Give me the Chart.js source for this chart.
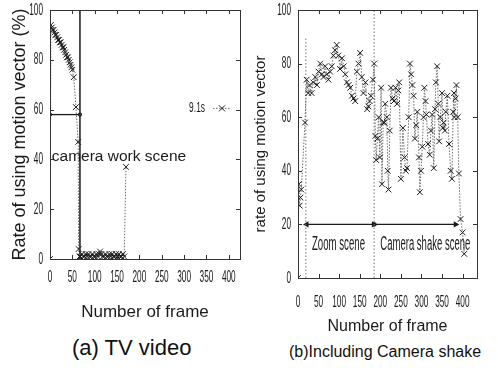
<!DOCTYPE html>
<html>
<head>
<meta charset="utf-8">
<script src="https://cdn.jsdelivr.net/npm/chart.js@4/dist/chart.umd.min.js"></script>
<style>
  body { margin: 0; background: #fff; width: 498px; height: 368px; overflow: hidden; position: relative; font-family: "Liberation Sans", Arial, sans-serif; }
  .panel { position: absolute; top: 0; }
  #left { left: 0; width: 250px; height: 327px; }
  #right { left: 250px; width: 248px; height: 340px; }
  .cap { position: absolute; white-space: nowrap; color: #111; }
</style>
</head>
<body>
<div class="panel" id="left"><canvas id="tvChart" width="250" height="327"></canvas></div>
<div class="panel" id="right"><canvas id="shakeChart" width="248" height="340"></canvas></div>
<div class="cap" style="left:72px;top:335px;font-size:22px">(a) TV video</div>
<div class="cap" style="left:289px;top:343px;font-size:16px">(b)Including Camera shake</div>

<script>
// =====================
// Data
// =====================

const frameTicks = [0, 50, 100, 150, 200, 250, 300, 350, 400]
const rateTicks = [0, 20, 40, 60, 80, 100]

// (a) TV video
const tvFrames = [0, 2, 4, 6, 8, 10, 12, 14, 16, 18, 20, 22, 24, 26, 28, 30, 32, 34, 36, 38, 40, 42, 44, 46, 48, 50, 53, 58, 63, 64, 66,
  68, 71, 74, 77, 80, 83, 86, 89, 92, 95, 98, 101, 104, 107, 110, 112, 115, 118, 121, 124, 127, 130, 133, 136, 139, 142, 145, 148, 151, 154, 157, 160, 163, 166, 170]
const tvRate = [0, 94, 93, 92, 92, 91, 90, 90, 89, 88, 88, 87, 87, 86, 85, 85, 84, 83, 82, 81, 81, 80, 79, 78, 77, 76, 73, 61, 47, 4, 1,
  1, 2, 1, 1, 2, 1, 2, 1, 1, 2, 1, 1, 2, 1, 2, 3, 2, 1, 1, 2, 1, 1, 2, 1, 2, 1, 1, 2, 1, 2, 1, 1, 2, 1, 37]

// scene marks in (a)
const tvSceneEnd = 67
const tvSceneLevel = 58

// (b) Including Camera shake
const shakeFrames = [0, 2, 4, 6, 8, 17, 21, 25, 28, 33, 37, 42, 46, 50, 54, 58, 62, 66, 70, 74, 78, 82, 86, 90, 94, 98,
  102, 107, 111, 115, 119, 123, 127, 131, 135, 139, 143, 147, 151, 155, 159, 164, 168, 171, 174, 177, 182, 185,
  188, 190, 193, 196, 199, 202, 204, 207, 210, 212, 216, 218, 220, 223, 226, 230, 233, 237, 241, 244, 246,
  250, 255, 259, 262, 265, 269, 272, 275, 278, 281, 284, 287, 290, 294, 296, 299, 302, 305, 307, 310, 312,
  316, 320, 323, 326, 330, 333, 335, 338, 341, 343, 346, 350, 352, 354, 357, 359, 363, 367, 371, 374, 377,
  379, 380, 383, 385, 388, 391, 395, 400, 404]
const shakeRate = [0, 35, 27, 30, 33, 58, 74, 69, 72, 69, 73, 75, 72, 77, 80, 76, 75, 79, 76, 74, 77, 79, 83, 85, 87, 83,
  78, 82, 79, 76, 73, 72, 71, 68, 67, 66, 77, 80, 84, 75, 69, 73, 63, 64, 66, 68, 74, 80,
  53, 44, 52, 60, 45, 71, 35, 58, 58, 65, 60, 40, 33, 55, 71, 67, 66, 71, 65, 70, 73,
  37, 56, 45, 40, 41, 60, 80, 76, 72, 68, 52, 57, 62, 45, 32, 40, 49, 60, 71, 66, 61,
  50, 46, 55, 61, 41, 63, 73, 79, 65, 51, 60, 69, 56, 58, 55, 62, 68, 50, 40, 37, 62,
  69, 60, 67, 72, 60, 39, 22, 17, 9]

// scene marks in (b)
const shakeZoomStart = 19
const shakeSceneSplit = 185
const shakeSceneEnd = 383
const shakeArrowLevel = 20


// =====================
// Helpers
// =====================
const sans = '"Liberation Sans", Arial, sans-serif'
const ink = "#1a1a1a"

function points(xs, ys) {
  return xs.map((x, i) => ({ x: x, y: ys[i] }))
}

function seriesStyle(data) {
  return {
    data: data,
    borderColor: "#6a6a6a",
    borderWidth: 1,
    borderDash: [1.5, 1.5],
    pointStyle: "crossRot",
    pointRadius: 4,
    pointBorderColor: ink,
    pointBorderWidth: 1,
    tension: 0
  }
}

// squeezed text, like the narrow face of the scan
function squeezed(ctx, text, px, py, size, sx, align, baseline) {
  ctx.save()
  ctx.translate(px, py)
  ctx.scale(sx, 1)
  ctx.font = size + "px " + sans
  ctx.textAlign = align
  ctx.textBaseline = baseline
  ctx.fillText(text, 0, 0)
  ctx.restore()
}

// box, inward ticks, tick labels, in-plot text and key
const paperMarks = {
  id: "paperMarks",
  afterDatasetsDraw(chart, args, opts) {
    const { ctx, chartArea: a, scales: { x, y } } = chart
    ctx.save()
    ctx.strokeStyle = "#333"
    ctx.lineWidth = 1
    ctx.strokeRect(a.left + 0.5, a.top + 0.5, a.right - a.left, a.bottom - a.top)

    ctx.beginPath()
    x.ticks.forEach(t => {
      const px = Math.round(x.getPixelForValue(t.value)) + 0.5
      ctx.moveTo(px, a.bottom); ctx.lineTo(px, a.bottom - 4)
      ctx.moveTo(px, a.top); ctx.lineTo(px, a.top + 4)
    })
    y.ticks.forEach(t => {
      const py = Math.round(y.getPixelForValue(t.value)) + 0.5
      ctx.moveTo(a.left, py); ctx.lineTo(a.left + 4, py)
      ctx.moveTo(a.right, py); ctx.lineTo(a.right - 4, py)
    })
    ctx.stroke()

    ctx.fillStyle = ink
    x.ticks.forEach(t => {
      squeezed(ctx, String(t.value), x.getPixelForValue(t.value), a.bottom + opts.xLabelGap, 16.5, 0.5, "center", "top")
    })
    y.ticks.forEach(t => {
      squeezed(ctx, String(t.value), a.left - opts.yLabelGap, y.getPixelForValue(t.value), 16.5, 0.5, "right", "middle")
    })

    ;(opts.texts || []).forEach(t => {
      ctx.save()
      ctx.font = t.size + "px " + sans
      const sx = t.width ? t.width / ctx.measureText(t.text).width : 1
      ctx.restore()
      squeezed(ctx, t.text, x.getPixelForValue(t.x), y.getPixelForValue(t.y), t.size, sx, "left", "alphabetic")
    })

    if (opts.key) {
      const k = opts.key
      const py = y.getPixelForValue(k.y)
      squeezed(ctx, k.text, a.right - 35, py, 14, 0.6, "right", "middle")
      ctx.strokeStyle = "#6a6a6a"
      ctx.setLineDash([1.5, 1.5])
      ctx.beginPath(); ctx.moveTo(a.right - 27, py); ctx.lineTo(a.right - 10, py); ctx.stroke()
      ctx.setLineDash([])
      ctx.strokeStyle = ink
      const cx = a.right - 18
      ctx.beginPath()
      ctx.moveTo(cx - 3, py - 3); ctx.lineTo(cx + 3, py + 3)
      ctx.moveTo(cx + 3, py - 3); ctx.lineTo(cx - 3, py + 3)
      ctx.stroke()
    }
    ctx.restore()
  }
}

function axes(xMax, xHeight, yWidth, yTitle, yTitleSize, yTitlePad, xTitleSize) {
  return {
    x: {
      type: "linear", min: 0, max: xMax,
      afterFit: s => { s.height = xHeight },
      afterBuildTicks: s => { s.ticks = frameTicks.map(v => ({ value: v })) },
      grid: { display: false, drawTicks: false },
      border: { display: false },
      ticks: { display: false, autoSkip: false },
      title: { display: true, text: "Number of frame", color: ink, padding: { top: 4, bottom: 4 },
        font: { family: sans, size: xTitleSize } }
    },
    y: {
      min: 0, max: 100,
      afterFit: s => { s.width = yWidth },
      afterBuildTicks: s => { s.ticks = rateTicks.map(v => ({ value: v })) },
      grid: { display: false, drawTicks: false },
      border: { display: false },
      ticks: { display: false },
      title: { display: true, text: yTitle, color: ink, padding: { top: yTitlePad, bottom: 0 },
        font: { family: sans, size: yTitleSize } }
    }
  }
}


// =====================
// (a) TV video
// =====================
new Chart(document.getElementById("tvChart"), {
  type: "line",
  data: {
    datasets: [
      seriesStyle(points(tvFrames, tvRate)),
      {
        data: [{ x: tvSceneEnd, y: 0 }, { x: tvSceneEnd, y: 100 }],
        borderColor: ink, borderWidth: 1.5, pointRadius: 0
      },
      {
        data: [{ x: 0, y: tvSceneLevel }, { x: tvSceneEnd, y: tvSceneLevel }],
        borderColor: ink, borderWidth: 1.3, pointRadius: 1.5,
        pointBackgroundColor: "#fff", pointBorderColor: ink
      }
    ]
  },
  options: {
    responsive: false,
    animation: false,
    layout: { padding: { top: 10, right: 10, left: 0, bottom: 0 } },
    plugins: {
      legend: { display: false },
      tooltip: { enabled: false },
      paperMarks: {
        xLabelGap: 10,
        yLabelGap: 7,
        texts: [{ text: "camera work scene", x: 4, y: 39.5, size: 15.5 }],
        key: { text: "9.1s", y: 60.5 }
      }
    },
    scales: axes(425, 68, 50, "Rate of using motion vector (%)", 18, 9, 17)
  },
  plugins: [paperMarks]
})


// =====================
// (b) Including Camera shake
// =====================
new Chart(document.getElementById("shakeChart"), {
  type: "line",
  data: {
    datasets: [
      seriesStyle(points(shakeFrames, shakeRate)),
      {
        data: [{ x: shakeSceneSplit, y: 0 }, { x: shakeSceneSplit, y: 100 }],
        borderColor: "#777", borderWidth: 1, borderDash: [1.5, 2], pointRadius: 0
      },
      {
        data: [{ x: shakeZoomStart, y: 0 }, { x: shakeZoomStart, y: 90 }],
        borderColor: "#777", borderWidth: 1, borderDash: [1.5, 2], pointRadius: 0
      },
      {
        data: [{ x: shakeZoomStart + 2, y: shakeArrowLevel }, { x: shakeSceneSplit - 1, y: shakeArrowLevel }],
        borderColor: ink, borderWidth: 1.2, pointStyle: "triangle", pointRotation: [-90, 90],
        pointRadius: 2.5, pointBackgroundColor: ink, pointBorderColor: ink
      },
      {
        data: [{ x: shakeSceneSplit + 1, y: shakeArrowLevel }, { x: shakeSceneEnd, y: shakeArrowLevel }],
        borderColor: ink, borderWidth: 1.2, pointStyle: ["circle", "triangle"], pointRotation: [0, 90],
        pointRadius: [1.5, 2.5], pointBackgroundColor: ink, pointBorderColor: ink
      }
    ]
  },
  options: {
    responsive: false,
    animation: false,
    layout: { padding: { top: 10, right: 21, left: 0, bottom: 0 } },
    plugins: {
      legend: { display: false },
      tooltip: { enabled: false },
      paperMarks: {
        xLabelGap: 16,
        yLabelGap: 7,
        texts: [
          { text: "Zoom scene", x: 34, y: 10.4, size: 20, width: 53 },
          { text: "Camera shake scene", x: 200, y: 10.4, size: 20, width: 90 }
        ]
      }
    },
    scales: axes(435, 62, 48, "rate of using motion vector", 15, 2, 16)
  },
  plugins: [paperMarks]
})
</script>
</body>
</html>
